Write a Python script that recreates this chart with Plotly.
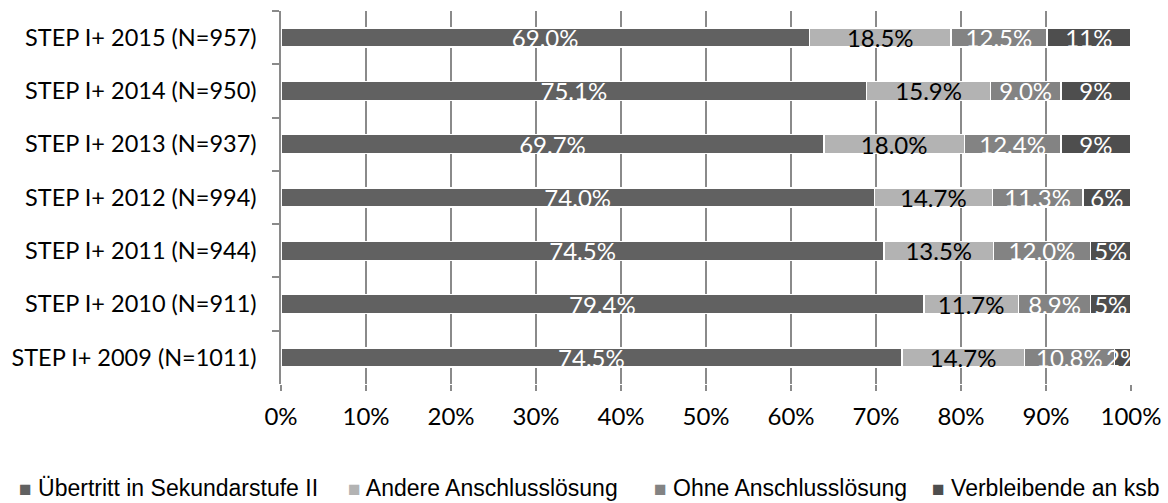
import plotly.graph_objects as go

categories = ["STEP I+ 2015 (N=957)", "STEP I+ 2014 (N=950)", "STEP I+ 2013 (N=937)",
              "STEP I+ 2012 (N=994)", "STEP I+ 2011 (N=944)", "STEP I+ 2010 (N=911)",
              "STEP I+ 2009 (N=1011)"]
series_names = ["Übertritt in Sekundarstufe II", "Andere Anschlusslösung",
                "Ohne Anschlusslösung", "Verbleibende an ksb"]
uebertritt = [69.0, 75.1, 69.7, 74.0, 74.5, 79.4, 74.5]
andere = [18.5, 15.9, 18.0, 14.7, 13.5, 11.7, 14.7]
ohne = [12.5, 9.0, 12.4, 11.3, 12.0, 8.9, 10.8]
verbleibende = [11, 9, 9, 6, 5, 5, 2]
x_ticks = [0, 10, 20, 30, 40, 50, 60, 70, 80, 90, 100]

series_values = [uebertritt, andere, ohne, verbleibende]
decimals = [1, 1, 1, 0]
colors = ["#616161", "#b3b3b3", "#838383", "#4e4e4e"]
text_colors = ["white", "black", "white", "white"]

# legend item positions (paper coordinates) for the custom one-line legend
legend_x = [-0.311, 0.077, 0.437, 0.764]
legend_y = -0.279

fig = go.Figure()
for name, vals, dec, col, tcol in zip(series_names, series_values, decimals, colors, text_colors):
    fig.add_trace(go.Bar(
        y=categories, x=vals, name=name, orientation="h",
        marker=dict(color=col, line=dict(color="white", width=1.5)),
        text=[f"{v:.{dec}f}%" for v in vals],
        textposition="inside", insidetextanchor="middle", constraintext="none",
        textangle=0, cliponaxis=False,
        textfont=dict(color=tcol, size=24, family="Lato"),
        hoverinfo="skip", showlegend=False,
    ))

for name, col, lx in zip(series_names, colors, legend_x):
    fig.add_annotation(
        xref="paper", yref="paper", x=lx, y=legend_y, xanchor="left", yanchor="middle",
        showarrow=False,
        text=f'<span style="font-size:21px;color:{col}">■</span> {name}',
        font=dict(family="Liberation Sans", size=23, color="black"),
    )

fig.update_layout(
    barmode="stack", barnorm="percent", bargap=0.644,
    width=1168, height=503,
    margin=dict(l=281, r=37, t=11, b=119),
    paper_bgcolor="white", plot_bgcolor="white",
    font=dict(family="Lato", size=24, color="black"),
    showlegend=False,
    xaxis=dict(range=[0, 100], tickvals=x_ticks, ticktext=[f"{t}%" for t in x_ticks],
               showgrid=True, gridcolor="#8a8a8a", gridwidth=1.5,
               ticks="outside", ticklen=6, tickcolor="#8a8a8a", tickwidth=1.5,
               showline=False, zeroline=False, automargin=False, ticklabelstandoff=5,
               tickfont=dict(size=24, family="Lato")),
    yaxis=dict(autorange="reversed", showline=True, linecolor="#8a8a8a", linewidth=1.5,
               ticks="outside", tickson="boundaries", ticklen=7, tickcolor="#8a8a8a",
               tickwidth=1.5, showgrid=False, automargin=False, ticklabelstandoff=18,
               tickfont=dict(size=23.5, family="Lato")),
)

fig.write_html("out.html", config={"displayModeBar": False},
               post_script="document.body.style.margin='0';")
